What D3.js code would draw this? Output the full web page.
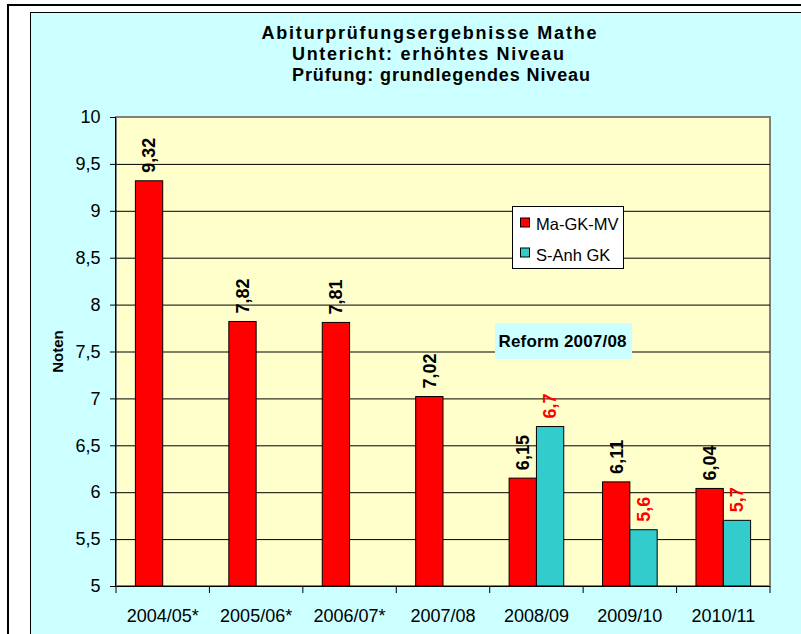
<!DOCTYPE html>
<html>
<head>
<meta charset="utf-8">
<script src="https://cdn.jsdelivr.net/npm/d3@7"></script>
<style>
  html, body { margin: 0; padding: 0; background: #fff; }
  svg { display: block; font-family: "Liberation Sans", Arial, sans-serif; }
</style>
</head>
<body>
<svg id="chart" width="801" height="634"></svg>
<script>
// ---- data ----
const categories = ["2004/05*", "2005/06*", "2006/07*", "2007/08", "2008/09", "2009/10", "2010/11"];
const seriesNames = ["Ma-GK-MV", "S-Anh GK"];
const maGkMv = [9.32, 7.82, 7.81, 7.02, 6.15, 6.11, 6.04];
const sAnhGk = [null, null, null, null, 6.7, 5.6, 5.7];
const yTicks = [5, 5.5, 6, 6.5, 7, 7.5, 8, 8.5, 9, 9.5, 10];
const titleLines = ["Abiturprüfungsergebnisse Mathe", "Untericht: erhöhtes Niveau", "Prüfung: grundlegendes Niveau"];
const yAxisTitle = "Noten";
const annotation = "Reform 2007/08";

// ---- styles / layout ----
const colors = { "Ma-GK-MV": "#FF0000", "S-Anh GK": "#33CCCC" };
const labelColors = { "Ma-GK-MV": "#000000", "S-Anh GK": "#FF0000" };
const plot = { left: 116, right: 770, top: 117, bottom: 586 };
const fmt = v => String(v).replace(".", ",");

const svg = d3.select("#chart");

// outer frame
svg.append("rect").attr("x", 8).attr("y", 5).attr("width", 830).attr("height", 700)
  .attr("fill", "#fff").attr("stroke", "#000").attr("stroke-width", 2);
// chart area
svg.append("rect").attr("x", 30.5).attr("y", 12.5).attr("width", 800).attr("height", 700)
  .attr("fill", "#CCFFFF").attr("stroke", "#000").attr("stroke-width", 1);

// title
const titleX = [261.5, 292, 292];
const titleW = [335, 272, 298];
const titleY = [39, 60, 81];
titleLines.forEach((t, i) => {
  svg.append("text").attr("x", titleX[i]).attr("y", titleY[i])
    .attr("font-size", 18).attr("font-weight", "bold").attr("fill", "#000")
    .attr("textLength", titleW[i]).attr("lengthAdjust", "spacing")
    .text(t);
});

// scales
const x = d3.scaleBand().domain(categories).range([plot.left, plot.right]).paddingInner(0).paddingOuter(0);
const xs = d3.scaleBand().domain(seriesNames).range([0, x.bandwidth()]).paddingInner(0).paddingOuter(0.71);
const y = d3.scaleLinear().domain([5, 10]).range([plot.bottom, plot.top]);

// plot area
svg.append("rect").attr("x", plot.left).attr("y", plot.top)
  .attr("width", plot.right - plot.left).attr("height", plot.bottom - plot.top)
  .attr("fill", "#FFFFCC").attr("stroke", "#808080").attr("stroke-width", 2);

// gridlines
svg.append("g").attr("transform", `translate(${plot.left},0)`)
  .call(d3.axisLeft(y).tickValues(yTicks.filter(v => v > 5 && v < 10)).tickSize(-(plot.right - plot.left)).tickFormat(""))
  .call(g => g.select(".domain").remove())
  .call(g => g.selectAll("line").attr("stroke", "#000").attr("stroke-width", 1));

// bars
const data = [];
categories.forEach((c, i) => {
  [[seriesNames[0], maGkMv[i]], [seriesNames[1], sAnhGk[i]]].forEach(([s, v]) => {
    if (v != null) data.push({ c, s, v });
  });
});
svg.append("g").selectAll("rect").data(data).join("rect")
  .attr("x", d => x(d.c) + xs(d.s))
  .attr("y", d => y(d.v))
  .attr("width", xs.bandwidth())
  .attr("height", d => y(5) - y(d.v))
  .attr("fill", d => colors[d.s])
  .attr("stroke", "#000").attr("stroke-width", 1);

// value labels
svg.append("g").selectAll("text").data(data).join("text")
  .attr("transform", d => `translate(${x(d.c) + xs(d.s) + xs.bandwidth() / 2},${y(d.v) - 8}) rotate(-90)`)
  .attr("dy", "0.35em")
  .attr("font-size", 18).attr("font-weight", "bold")
  .attr("fill", d => labelColors[d.s])
  .text(d => fmt(d.v));

// y axis
svg.append("g").attr("transform", `translate(${plot.left},0)`)
  .call(d3.axisLeft(y).tickValues(yTicks).tickSize(6).tickPadding(9.5).tickFormat(fmt))
  .call(g => g.select(".domain").attr("stroke", "#000").attr("d", `M-0.5,${plot.top}V${plot.bottom}`))
  .call(g => g.selectAll("line").attr("stroke", "#000"))
  .call(g => g.selectAll("text").attr("font-size", 18).attr("fill", "#000")
    .attr("font-family", "Liberation Sans, Arial, sans-serif"));

// x axis line + boundary ticks
const boundaries = categories.map(c => x(c)).concat([x.range()[1]]);
const xg = svg.append("g");
xg.append("line").attr("x1", plot.left).attr("x2", plot.right)
  .attr("y1", plot.bottom + 0.5).attr("y2", plot.bottom + 0.5).attr("stroke", "#000");
xg.selectAll("line.tick").data(boundaries).join("line").attr("class", "tick")
  .attr("x1", d => d).attr("x2", d => d)
  .attr("y1", plot.bottom).attr("y2", plot.bottom + 7).attr("stroke", "#000");
xg.selectAll("text").data(categories).join("text")
  .attr("x", d => x(d) + x.bandwidth() / 2).attr("y", 622)
  .attr("text-anchor", "middle").attr("font-size", 18).attr("fill", "#000")
  .text(d => d);

// y axis title
svg.append("text")
  .attr("transform", `translate(57.5,${(plot.top + plot.bottom) / 2}) rotate(-90)`)
  .attr("dy", "0.35em").attr("text-anchor", "middle")
  .attr("font-size", 15).attr("font-weight", "bold").attr("fill", "#000")
  .text(yAxisTitle);

// legend
const lg = svg.append("g").attr("transform", "translate(512.5,206.5)");
lg.append("rect").attr("width", 111).attr("height", 62).attr("fill", "#fff").attr("stroke", "#000");
seriesNames.forEach((s, i) => {
  lg.append("rect").attr("x", 8).attr("y", 11.5 + i * 30).attr("width", 9).attr("height", 9)
    .attr("fill", colors[s]).attr("stroke", "#000");
  lg.append("text").attr("x", 23.5).attr("y", 23.5 + i * 31).attr("font-size", 16.5).attr("fill", "#000").text(s);
});

// annotation
svg.append("rect").attr("x", 495).attr("y", 323).attr("width", 137).attr("height", 36).attr("fill", "#CCFFFF");
svg.append("text").attr("x", 498.5).attr("y", 347).attr("font-size", 17).attr("font-weight", "bold")
  .attr("fill", "#000").attr("textLength", 128).attr("lengthAdjust", "spacing").text(annotation);
</script>
</body>
</html>
